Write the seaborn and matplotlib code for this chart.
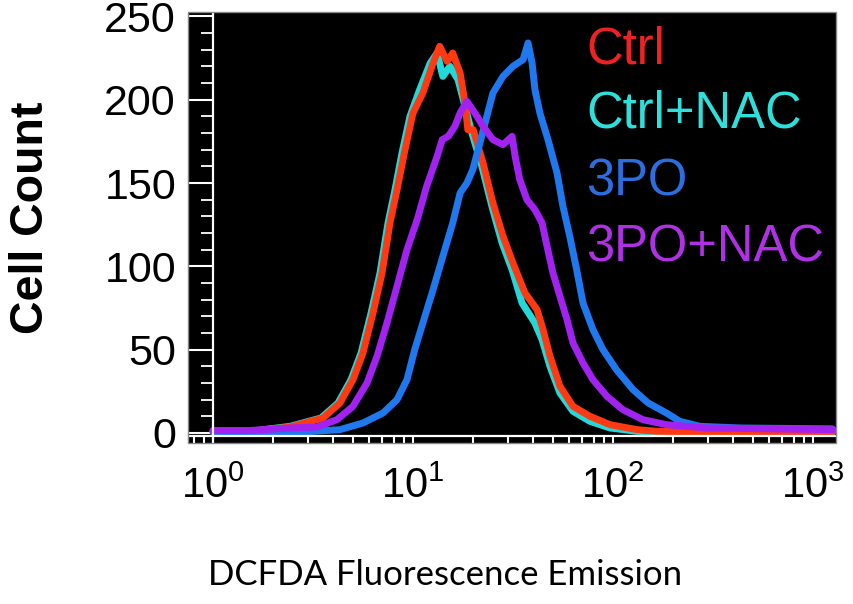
import numpy as np
import pandas as pd
import matplotlib
matplotlib.use("Agg")
import matplotlib.pyplot as plt
from matplotlib.patches import Rectangle
from matplotlib.ticker import LogLocator, FixedLocator, MultipleLocator, NullFormatter, FixedFormatter
import seaborn as sns

# ---------------- data ----------------
ctrl_x = [1.0, 1.53, 2.43, 3.55, 4.31, 5.01, 5.62, 6.31, 7.0, 7.67, 8.32, 9.12, 10.0, 11.2, 12.6,
          13.6, 14.8, 15.8, 17.2, 18.2, 18.8, 20.0, 22.4, 25.1, 28.2, 31.6, 36.3, 41.7, 44.7, 48.4,
          54.3, 63.1, 76.7, 96.6, 132, 166, 272, 543, 1250]
ctrl_y = [1, 1, 3.6, 9, 18, 32, 48, 72, 96, 126, 146, 170, 192, 204, 222,
          232, 223, 228, 216, 198, 182, 182, 162, 138, 118, 102, 84, 74, 62, 46,
          28, 16, 10, 5, 2, 1, 0.6, 0.5, 0.5]

ctrlnac_x = [1.0, 1.53, 2.43, 3.47, 4.22, 4.90, 5.50, 6.17, 6.84, 7.50, 8.13, 8.81, 9.66, 10.8, 12.2,
             13.2, 14.1, 15.3, 16.8, 18.2, 19.7, 22.1, 24.8, 27.9, 31.3, 35.1, 40.7, 44.2, 48.4,
             54.3, 63.1, 76.7, 96.6, 132, 166, 272, 543, 1250]
ctrlnac_y = [1, 1, 4, 9, 18, 32, 48, 72, 96, 126, 146, 168, 190, 206, 222,
             228, 214, 220, 212, 196, 180, 160, 136, 114, 98, 78, 66, 56, 40,
             24, 13, 7, 3, 1, 0.5, 0.5, 0.5, 0.5]

tpo_x = [1.0, 2.72, 4.31, 5.62, 7.08, 8.32, 9.33, 10.2, 11.2, 12.6, 14.1, 15.8, 17.2, 18.6, 19.9,
         21.6, 23.4, 25.1, 28.2, 31.6, 35.5, 37.6, 39.4, 40.7, 43.1, 47.3, 52.5, 56.2, 60.8, 65.8,
         70.8, 79.4, 89.1, 104, 126, 150, 185, 216, 272, 433, 1250]
tpo_y = [0.5, 0.5, 2, 6, 12, 20, 32, 50, 66, 86, 106, 126, 144, 150, 158,
         174, 190, 204, 214, 220, 224, 234, 222, 206, 192, 176, 156, 136, 118, 98,
         78, 62, 50, 38, 26, 18, 12, 7, 4, 3, 2.5]

tponac_x = [1.0, 1.53, 2.43, 3.31, 4.17, 5.01, 5.89, 6.61, 7.41, 8.32, 9.33, 10.5, 11.7, 13.2, 14.0,
            15.0, 16.2, 17.2, 18.6, 20.9, 22.4, 25.1, 28.2, 31.3, 32.4, 34.2, 37.1, 40.7, 44.2, 46.8,
            50.1, 54.3, 58.9, 63.1, 70.8, 79.4, 93.3, 112, 141, 185, 295, 631, 1260]
tponac_y = [1.5, 1.5, 3, 3.6, 8, 16, 30, 46, 66, 88, 110, 128, 148, 166, 176,
            178, 184, 192, 199, 190, 184, 176, 173, 178, 166, 152, 140, 134, 126, 112,
            96, 82, 68, 54, 42, 32, 22, 14, 8, 5, 3, 2.5, 2]

series_names = ["Ctrl", "Ctrl+NAC", "3PO", "3PO+NAC"]
y_ticks = [0, 50, 100, 150, 200, 250]
x_ticks = [1, 10, 100, 1000]
x_tick_labels = [r"$\mathregular{10^{0}}$", r"$\mathregular{10^{1}}$",
                 r"$\mathregular{10^{2}}$", r"$\mathregular{10^{3}}$"]

line_colors = {"Ctrl": "#FF3A12", "Ctrl+NAC": "#22D8D8", "3PO": "#1F78EE", "3PO+NAC": "#A222F0"}
text_colors = {"Ctrl": "#EE2222", "Ctrl+NAC": "#2EE0DC", "3PO": "#2A6EE0", "3PO+NAC": "#B030E6"}

frames = []
for name, xs, ys in [("Ctrl", ctrl_x, ctrl_y), ("Ctrl+NAC", ctrlnac_x, ctrlnac_y),
                     ("3PO", tpo_x, tpo_y), ("3PO+NAC", tponac_x, tponac_y)]:
    frames.append(pd.DataFrame({"fluor": xs, "count": ys, "group": name}))
df = pd.concat(frames, ignore_index=True)

# ---------------- figure ----------------
sns.set_style("white")
plt.rcParams["font.family"] = ["Liberation Sans", "DejaVu Sans"]
plt.rcParams["mathtext.fontset"] = "custom"
plt.rcParams["mathtext.rm"] = "Liberation Sans"
plt.rcParams["mathtext.it"] = "Liberation Sans:italic"
plt.rcParams["mathtext.bf"] = "Liberation Sans:bold"

DPI = 100
W, H = 854, 604
fig = plt.figure(figsize=(W / DPI, H / DPI), dpi=DPI)
fig.patch.set_facecolor("white")
ax = fig.add_axes([188 / W, 1 - 443 / H, (836 - 188) / W, (443 - 12) / H])
ax.set_facecolor("black")

sns.lineplot(data=df, x="fluor", y="count", hue="group",
             hue_order=["Ctrl+NAC", "Ctrl", "3PO", "3PO+NAC"],
             palette=line_colors, estimator=None, sort=False,
             linewidth=5.0, legend=False, ax=ax)

ax.set_xscale("log")
ax.set_xlim(0.75, 1303)
ax.set_ylim(-6, 252.6)

# spines
for s in ["top", "right"]:
    ax.spines[s].set_visible(False)
ax.spines["left"].set_position(("data", 1.0))
ax.spines["bottom"].set_position(("data", -1.8))
for s in ["left", "bottom"]:
    ax.spines[s].set_color("white")
    ax.spines[s].set_linewidth(1.6)
ax.add_patch(Rectangle((0, 0), 1, 1, transform=ax.transAxes, fill=False,
                       edgecolor="#888888", linewidth=1.0, clip_on=False, zorder=5))

# y ticks
ypad = 10.0
ax.yaxis.set_major_locator(FixedLocator(y_ticks))
ax.yaxis.set_minor_locator(MultipleLocator(10))
ax.tick_params(axis="y", which="major", direction="out", length=17, width=1.5,
               color="white", pad=ypad, labelsize=31, labelcolor="black", left=True)
ax.tick_params(axis="y", which="minor", direction="out", length=9, width=1.3,
               color="white", left=True)

# x ticks
xpad = 18.0
ax.xaxis.set_major_locator(FixedLocator(x_ticks))
ax.xaxis.set_major_formatter(FixedFormatter(x_tick_labels))
ax.xaxis.set_minor_locator(LogLocator(base=10, subs=np.arange(2, 10)))
ax.xaxis.set_minor_formatter(NullFormatter())
ax.tick_params(axis="x", which="major", direction="out", length=5, width=1.5,
               color="white", pad=xpad, labelsize=30, labelcolor="black", bottom=True)
ax.tick_params(axis="x", which="minor", direction="out", length=5, width=1.5,
               color="white", bottom=True)

ax.set_xlabel("")
ax.set_ylabel("")
ax.grid(False)

# place tick labels where the reference has them
fig.canvas.draw()
r = fig.canvas.get_renderer()
ylab = [t for t in ax.yaxis.get_majorticklabels() if t.get_text()]
x1 = max(t.get_window_extent(r).x1 for t in ylab)
ypad = ypad + (x1 - 176) * 72 / DPI
ax.tick_params(axis="y", which="major", pad=ypad)
xlab = [t for t in ax.xaxis.get_majorticklabels() if t.get_text()]
ytop = max(t.get_window_extent(r).y1 for t in xlab)
xpad = xpad + (ytop - (H - 467)) * 72 / DPI
ax.tick_params(axis="x", which="major", pad=xpad)

# legend as coloured text
legend_y = [50, 114, 182, 248]
for name, yp in zip(series_names, legend_y):
    fig.text(586 / W, 1 - yp / H, name, color=text_colors[name], fontsize=36.5,
             ha="left", va="center", family=["Liberation Sans", "DejaVu Sans"])

# axis titles
fig.text(31 / W, 1 - 218 / H, "Cell Count", rotation=90, fontsize=33.5,
         fontweight="bold", ha="center", va="center", color="black",
         family=["Liberation Sans", "DejaVu Sans"])
fig.text(445 / W, 1 - 575 / H, "DCFDA Fluorescence Emission", fontsize=25,
         ha="center", va="center", color="black", family=["Lato", "DejaVu Sans"])

fig.savefig("out.png", dpi=DPI, facecolor="white")
